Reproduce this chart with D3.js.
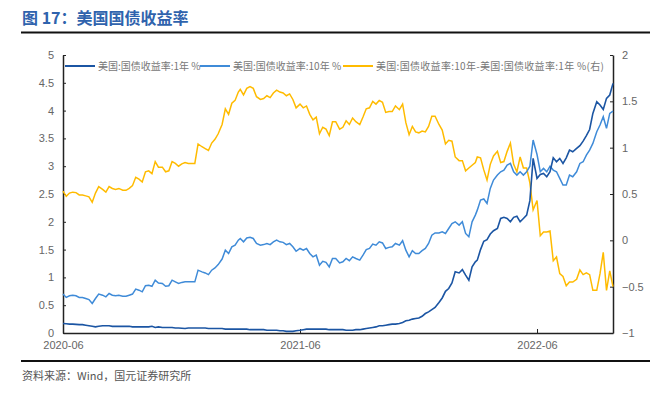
<!DOCTYPE html>
<html lang="zh">
<head>
    <meta charset="UTF-8">
    <title>美国国债收益率</title>
    <script src="https://d3js.org/d3.v7.min.js"></script>
    <style>
        body { margin: 0; background: #fff; }
        text { font-family: 'Liberation Sans', Arial, sans-serif; }
        .cjk { font-family: 'Noto Sans CJK SC', sans-serif; }
    </style>
</head>
<body>
<script>
    const width = 650;
    const height = 396;

    // 日期（每5天一点：1、6、11、16、21、26日）
    const dates = [
        "2020-06-01","2020-06-06","2020-06-11","2020-06-16","2020-06-21","2020-06-26",
        "2020-07-01","2020-07-06","2020-07-11","2020-07-16","2020-07-21","2020-07-26",
        "2020-08-01","2020-08-06","2020-08-11","2020-08-16","2020-08-21","2020-08-26",
        "2020-09-01","2020-09-06","2020-09-11","2020-09-16","2020-09-21","2020-09-26",
        "2020-10-01","2020-10-06","2020-10-11","2020-10-16","2020-10-21","2020-10-26",
        "2020-11-01","2020-11-06","2020-11-11","2020-11-16","2020-11-21","2020-11-26",
        "2020-12-01","2020-12-06","2020-12-11","2020-12-16","2020-12-21","2020-12-26",
        "2021-01-01","2021-01-06","2021-01-11","2021-01-16","2021-01-21","2021-01-26",
        "2021-02-01","2021-02-06","2021-02-11","2021-02-16","2021-02-21","2021-02-26",
        "2021-03-01","2021-03-06","2021-03-11","2021-03-16","2021-03-21","2021-03-26",
        "2021-04-01","2021-04-06","2021-04-11","2021-04-16","2021-04-21","2021-04-26",
        "2021-05-01","2021-05-06","2021-05-11","2021-05-16","2021-05-21","2021-05-26",
        "2021-06-01","2021-06-06","2021-06-11","2021-06-16","2021-06-21","2021-06-26",
        "2021-07-01","2021-07-06","2021-07-11","2021-07-16","2021-07-21","2021-07-26",
        "2021-08-01","2021-08-06","2021-08-11","2021-08-16","2021-08-21","2021-08-26",
        "2021-09-01","2021-09-06","2021-09-11","2021-09-16","2021-09-21","2021-09-26",
        "2021-10-01","2021-10-06","2021-10-11","2021-10-16","2021-10-21","2021-10-26",
        "2021-11-01","2021-11-06","2021-11-11","2021-11-16","2021-11-21","2021-11-26",
        "2021-12-01","2021-12-06","2021-12-11","2021-12-16","2021-12-21","2021-12-26",
        "2022-01-01","2022-01-06","2022-01-11","2022-01-16","2022-01-21","2022-01-26",
        "2022-02-01","2022-02-06","2022-02-11","2022-02-16","2022-02-21","2022-02-26",
        "2022-03-01","2022-03-06","2022-03-11","2022-03-16","2022-03-21","2022-03-26",
        "2022-04-01","2022-04-06","2022-04-11","2022-04-16","2022-04-21","2022-04-26",
        "2022-05-01","2022-05-06","2022-05-11","2022-05-16","2022-05-21","2022-05-26",
        "2022-06-01","2022-06-06","2022-06-11","2022-06-16","2022-06-21","2022-06-26",
        "2022-07-01","2022-07-06","2022-07-11","2022-07-16","2022-07-21","2022-07-26",
        "2022-08-01","2022-08-06","2022-08-11","2022-08-16","2022-08-21","2022-08-26",
        "2022-09-01","2022-09-06","2022-09-11","2022-09-16","2022-09-21","2022-09-26"
    ];

    // 美国:国债收益率:1年 %
    const yield1y = [
        0.17, 0.165, 0.16, 0.16, 0.155, 0.15,
        0.15, 0.14, 0.13, 0.12, 0.11, 0.12,
        0.13, 0.13, 0.13, 0.12, 0.12, 0.12,
        0.12, 0.12, 0.12, 0.11, 0.11, 0.11,
        0.11, 0.11, 0.11, 0.12, 0.10, 0.11,
        0.10, 0.10, 0.10, 0.10, 0.09, 0.09,
        0.085, 0.08, 0.09, 0.09, 0.09, 0.09,
        0.09, 0.09, 0.08, 0.08, 0.08, 0.08,
        0.08, 0.07, 0.07, 0.07, 0.07, 0.07,
        0.07, 0.07, 0.07, 0.06, 0.06, 0.06,
        0.06, 0.06, 0.05, 0.05, 0.05, 0.05,
        0.04, 0.04, 0.03, 0.03, 0.03, 0.04,
        0.05, 0.06, 0.07, 0.07, 0.07, 0.07,
        0.07, 0.07, 0.07, 0.06, 0.06, 0.06,
        0.06, 0.06, 0.05, 0.05, 0.05, 0.06,
        0.06, 0.07, 0.08, 0.09, 0.10, 0.11,
        0.13, 0.13, 0.14, 0.15, 0.16, 0.16,
        0.17, 0.19, 0.22, 0.23, 0.25, 0.26,
        0.27, 0.30, 0.35, 0.38, 0.42, 0.46,
        0.55, 0.63, 0.75, 0.80, 0.90, 1.10,
        1.08, 1.14, 1.04, 0.95, 1.19, 1.28,
        1.31, 1.50, 1.65, 1.68, 1.78, 1.84,
        1.88, 2.06, 2.08, 2.06, 2.00, 2.08,
        2.10, 2.00, 2.06, 2.12, 2.38, 3.14,
        2.78, 2.85, 2.87, 2.81, 2.90, 3.15,
        3.08, 3.14, 3.05, 3.15, 3.29, 3.26,
        3.32, 3.37, 3.45, 3.55, 3.66, 3.95,
        4.16, 4.10, 4.02, 4.22, 4.28, 4.49
    ];

    // 美国:国债收益率:10年 %
    const yield10y = [
        0.70, 0.64, 0.67, 0.68, 0.67, 0.64,
        0.64, 0.62, 0.60, 0.53, 0.62, 0.70,
        0.68, 0.65, 0.71, 0.68, 0.67, 0.68,
        0.66, 0.66, 0.68, 0.70, 0.79, 0.77,
        0.74, 0.85, 0.86, 0.84, 0.95, 0.90,
        0.89, 0.84, 0.85, 0.95, 0.92, 0.89,
        0.91, 0.92, 0.92, 0.92, 0.92, 1.13,
        1.10, 1.08, 1.05, 1.13, 1.17, 1.23,
        1.33, 1.49, 1.43, 1.55, 1.58, 1.67,
        1.70, 1.64, 1.71, 1.72, 1.70, 1.61,
        1.58, 1.59, 1.61, 1.59, 1.64, 1.67,
        1.64, 1.63, 1.59, 1.61, 1.55, 1.47,
        1.52, 1.49, 1.52, 1.43, 1.37, 1.40,
        1.22, 1.29, 1.27, 1.19, 1.34, 1.34,
        1.26, 1.28, 1.34, 1.30, 1.37, 1.34,
        1.31, 1.40, 1.50, 1.52, 1.60, 1.58,
        1.64, 1.62, 1.52, 1.54, 1.55, 1.61,
        1.58, 1.66, 1.49, 1.37, 1.48, 1.43,
        1.43, 1.48, 1.52, 1.61, 1.76, 1.80,
        1.80, 1.82, 1.79, 1.88, 1.97, 2.00,
        1.94, 2.00, 1.79, 1.73, 2.00, 2.12,
        2.21, 2.39, 2.41, 2.33, 2.60, 2.75,
        2.84, 2.90, 2.93, 3.02, 3.05, 2.90,
        2.84, 2.90, 2.84, 2.90, 3.00, 3.47,
        3.21, 2.90, 2.96, 2.90, 3.00, 2.93,
        2.90, 2.78, 2.66, 2.66, 2.84, 2.81,
        2.90, 3.05, 3.08, 3.20, 3.29, 3.41,
        3.62, 3.74, 3.89, 3.68, 3.95, 3.99
    ];

    const leftTicks = [0, 0.5, 1, 1.5, 2, 2.5, 3, 3.5, 4, 4.5, 5];
    const rightTicks = [-1, -0.5, 0, 0.5, 1, 1.5, 2];
    const xTicks = ["2020-06-01", "2021-06-01", "2022-06-01"];

    const legendLabels = [
        "美国:国债收益率:1年 %",
        "美国:国债收益率:10年 %",
        "美国:国债收益率:10年-美国:国债收益率:1年 %(右)"
    ];
    const colors = ["#1b55a3", "#3f8bd8", "#ffbb00"];

    const parse = d3.timeParse("%Y-%m-%d");

    // 利差 = 10年 - 1年
    const rows = dates.map((d, i) => ({
        date: parse(d),
        one: yield1y[i],
        ten: yield10y[i],
        spread: yield10y[i] - yield1y[i]
    }));

    const plot = {left: 63, right: 613, top: 55, bottom: 333};

    const x = d3.scaleTime()
        .domain([parse("2020-06-01"), parse("2022-09-26")])
        .range([plot.left, plot.right]);
    const yL = d3.scaleLinear().domain([0, 5]).range([plot.bottom, plot.top]);
    const yR = d3.scaleLinear().domain([-1, 2]).range([plot.bottom, plot.top]);

    const svg = d3.select("body").append("svg")
        .attr("width", width).attr("height", height);

    // 标题
    svg.append("text").attr("class", "cjk")
        .attr("x", 22).attr("y", 24)
        .attr("font-size", 16).attr("font-weight", "bold")
        .attr("fill", "#2f63ad")
        .text("图 17：美国国债收益率");
    svg.append("line")
        .attr("x1", 21).attr("x2", 650).attr("y1", 32.5).attr("y2", 32.5)
        .attr("stroke", "#111").attr("stroke-width", 2);

    // 坐标轴
    const gx = svg.append("g").attr("transform", `translate(0,${plot.bottom})`)
        .call(d3.axisBottom(x).tickValues(xTicks.map(parse))
            .tickFormat(d3.timeFormat("%Y-%m")).tickSizeInner(-4).tickSizeOuter(0).tickPadding(8));
    const gl = svg.append("g").attr("transform", `translate(${plot.left},0)`)
        .call(d3.axisLeft(yL).tickValues(leftTicks).tickFormat(d3.format("~g"))
            .tickSizeInner(-3).tickSizeOuter(0).tickPadding(9));
    const gr = svg.append("g").attr("transform", `translate(${plot.right},0)`)
        .call(d3.axisRight(yR).tickValues(rightTicks).tickFormat(d3.format("~g"))
            .tickSizeInner(-3).tickSizeOuter(0).tickPadding(9));

    [gx, gl, gr].forEach(g => {
        g.select(".domain").attr("stroke", "#222").attr("stroke-width", 1.5);
        g.selectAll(".tick line").attr("stroke", "#222");
        g.selectAll(".tick text").attr("fill", "#666").attr("font-size", 11)
            .attr("font-family", "'Liberation Sans', Arial, sans-serif");
    });

    // 线
    const lineOne = d3.line().x(d => x(d.date)).y(d => yL(d.one));
    const lineTen = d3.line().x(d => x(d.date)).y(d => yL(d.ten));
    const lineSpread = d3.line().x(d => x(d.date)).y(d => yR(d.spread));

    svg.append("path").datum(rows).attr("d", lineSpread)
        .attr("fill", "none").attr("stroke", colors[2]).attr("stroke-width", 1.5);
    svg.append("path").datum(rows).attr("d", lineTen)
        .attr("fill", "none").attr("stroke", colors[1]).attr("stroke-width", 1.5);
    svg.append("path").datum(rows).attr("d", lineOne)
        .attr("fill", "none").attr("stroke", colors[0]).attr("stroke-width", 1.6);

    // 图例
    const legendX = [65, 200, 343];
    const legend = svg.append("g").attr("transform", "translate(0,66)");
    legendLabels.forEach((label, i) => {
        legend.append("line")
            .attr("x1", legendX[i]).attr("x2", legendX[i] + 30)
            .attr("stroke", colors[i]).attr("stroke-width", 2);
        legend.append("text").attr("class", "cjk")
            .attr("x", legendX[i] + 33).attr("y", 3.5)
            .attr("font-size", 10).attr("fill", "#777")
            .attr("letter-spacing", i === 2 ? 0.3 : 0)
            .text(label);
    });

    // 资料来源
    svg.append("line")
        .attr("x1", 21).attr("x2", 650).attr("y1", 361).attr("y2", 361)
        .attr("stroke", "#111").attr("stroke-width", 2);
    svg.append("text").attr("class", "cjk")
        .attr("x", 22).attr("y", 380)
        .attr("font-size", 11).attr("fill", "#555")
        .text("资料来源：Wind，国元证券研究所");
</script>
</body>
</html>
